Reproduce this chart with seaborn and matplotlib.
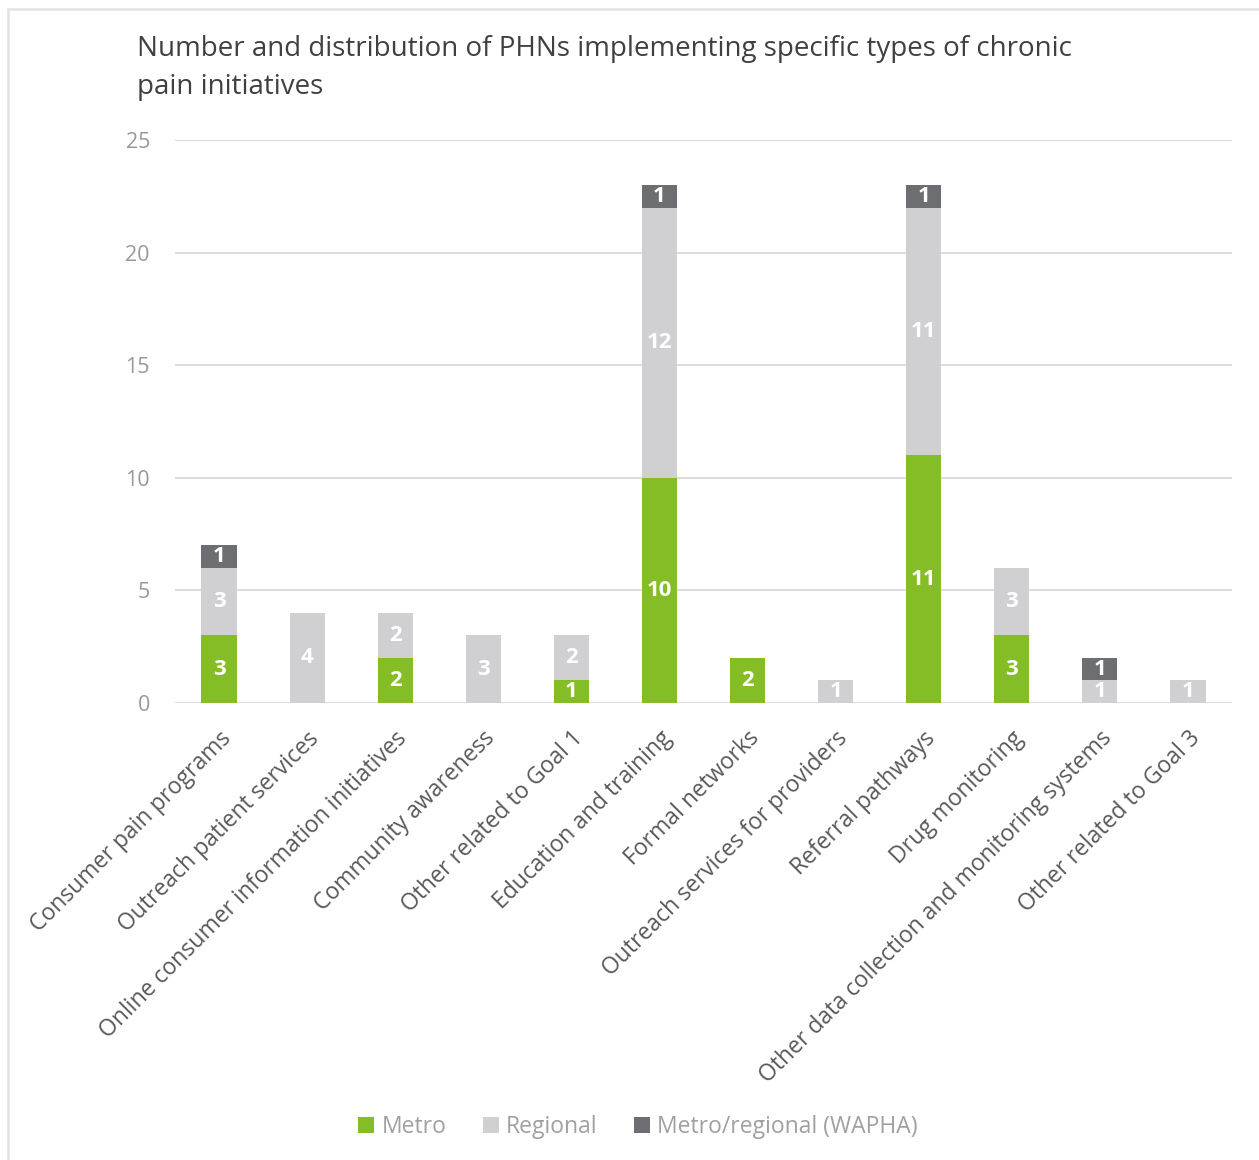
import numpy as np
import pandas as pd
import matplotlib
matplotlib.use("Agg")
import matplotlib.pyplot as plt
from matplotlib.patches import Patch
from matplotlib.lines import Line2D
import seaborn as sns

categories = ["Consumer pain programs", "Outreach patient services",
              "Online consumer information initiatives", "Community awareness",
              "Other related to Goal 1", "Education and training", "Formal networks",
              "Outreach services for providers", "Referral pathways", "Drug monitoring",
              "Other data collection and monitoring systems", "Other related to Goal 3"]
metro = [3, 0, 2, 0, 1, 10, 2, 0, 11, 3, 0, 0]
regional = [3, 4, 2, 3, 2, 12, 0, 1, 11, 3, 1, 1]
wapha = [1, 0, 0, 0, 0, 1, 0, 0, 1, 0, 1, 0]
series_names = ["Metro", "Regional", "Metro/regional (WAPHA)"]
colors = ["#84BD26", "#D0D0D2", "#6D6E71"]
yticks = [0, 5, 10, 15, 20, 25]

sns.set_theme(style="white")
plt.rcParams['font.family'] = ['Open Sans', 'DejaVu Sans']

df = pd.DataFrame({"category": categories, "Metro": metro,
                   "Regional": regional, "WAPHA": wapha})
df["c1"] = df["Metro"]
df["c2"] = df["Metro"] + df["Regional"]
df["c3"] = df["c2"] + df["WAPHA"]

fig = plt.figure(figsize=(12.59, 11.6), dpi=100)
# partial frame border (left and top)
bx, by = 8/1259, 1 - 9/1160
fig.add_artist(Line2D([bx, bx], [0, by], transform=fig.transFigure, color="#E3E3E3", linewidth=1.8))
fig.add_artist(Line2D([bx, 1], [by, by], transform=fig.transFigure, color="#E3E3E3", linewidth=1.8))

ax = fig.add_axes([175/1259, 1 - 703/1160, (1232 - 175)/1259, (703 - 140)/1160])

for col, c in zip(["c3", "c2", "c1"], colors[::-1]):
    sns.barplot(data=df, x="category", y=col, color=c, width=0.4, ax=ax,
                saturation=1, errorbar=None, order=categories, linewidth=0)

ax.set_ylim(0, 25)
ax.set_xlim(-0.5, len(categories) - 0.5)
ax.set_yticks(yticks)
ax.yaxis.grid(True, color="#D9D9D9", linewidth=1.3)
ax.set_axisbelow(True)
for s in ax.spines.values():
    s.set_visible(False)
ax.set_xlabel("")
ax.set_ylabel("")
ax.tick_params(axis="y", colors="#999999", labelsize=15.5, length=0, pad=18)
ax.tick_params(axis="x", colors="#595959", labelsize=16.5, length=0, pad=17)
ax.set_xticks(range(len(categories)))
ax.set_xticklabels(categories, rotation=45, ha="right", rotation_mode="anchor",
                   color="#595959")

# segment labels
for i in range(len(categories)):
    base = 0
    for val in (metro[i], regional[i], wapha[i]):
        if val > 0:
            ax.text(i, base + val / 2, str(val), ha="center", va="center",
                    color="white", fontsize=16, fontweight="bold")
        base += val

fig.text(137/1259, 1 - 68/1160, "Number and distribution of PHNs implementing specific types of chronic\npain initiatives",
         ha="left", va="center", fontsize=20, color="#404040", linespacing=1.52)

handles = [Patch(facecolor=c, edgecolor="none") for c in colors]
leg = fig.legend(handles, series_names, loc="center", bbox_to_anchor=(638/1259, 1 - 1127/1160),
                 ncol=3, frameon=False, fontsize=16.5, handlelength=0.7, handleheight=0.7,
                 handletextpad=0.3, columnspacing=1.6)
for t in leg.get_texts():
    t.set_color("#A0A0A0")

fig.savefig("out.png", dpi=100, facecolor="white")
